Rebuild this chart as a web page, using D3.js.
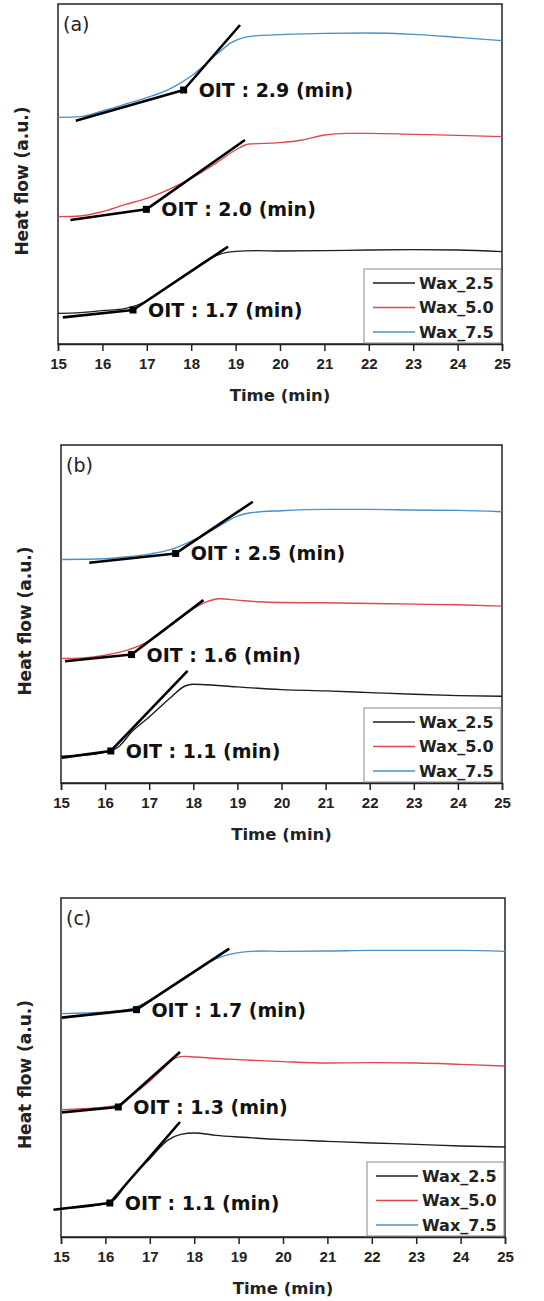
<!DOCTYPE html>
<meta charset="utf-8">
<script src="https://d3js.org/d3.v7.min.js"></script>
<style>
  body { margin: 0; background: #fff; }
</style>
<div id="my_dataviz"></div>
<script>

// x ticks (min)
var timeTicks = [15, 16, 17, 18, 19, 20, 21, 22, 23, 24, 25];
var seriesNames = ["Wax_2.5", "Wax_5.0", "Wax_7.5"];
var seriesColors = ["#1e1e1e", "#e0474c", "#4a90c8"];

// panel (a) heat flow curves, [time, heat flow a.u.]
var a_wax25 = [[15,9.2],[15.5,9.4],[16,10.0],[16.5,10.6],[17,12.9],[17.5,17.4],[18,22.0],[18.5,26.2],[18.8,27.5],[19,27.8],[19.5,28.0],[20,27.9],[21,28.0],[22,28.2],[23,28.3],[24,28.2],[25,27.7]];
var a_wax50 = [[15,38.2],[15.5,38.4],[16,39.7],[16.5,41.8],[17,43.7],[17.5,46.4],[18,49.7],[18.5,53.7],[19,58.2],[19.3,60.0],[20,60.4],[20.5,61.2],[21,62.7],[21.5,63.2],[22,63.2],[23,62.9],[24,62.6],[25,62.2]];
var a_wax75 = [[15,68.0],[15.5,68.2],[16,69.9],[16.5,71.9],[17,73.9],[17.5,76.4],[18,80.4],[18.3,83.7],[18.6,87.2],[18.9,90.4],[19.2,92.0],[19.5,92.5],[20,92.8],[21,93.2],[22,93.3],[23,92.9],[24,92.0],[25,91.0]];
// tangent lines: start, onset, end
var a_tan25 = [[15.11,8.0],[16.69,10.2],[18.83,29.2]];
var a_tan50 = [[15.28,37.2],[16.99,40.4],[19.21,61.2]];
var a_tan75 = [[15.4,67.0],[17.83,76.2],[19.1,95.7]];
var a_oit = ["1.7", "2.0", "2.9"];

// panel (b)
var b_wax25 = [[15,8.0],[15.5,8.3],[16,9.3],[16.3,10.8],[16.6,15.3],[17,19.8],[17.5,25.8],[17.8,29.0],[18,29.6],[18.5,29.3],[19,28.8],[20,28.0],[21,27.6],[22,27.1],[23,26.6],[24,26.2],[25,26.0]];
var b_wax50 = [[15,37.3],[15.5,37.5],[16,38.3],[16.5,39.8],[17,42.6],[17.5,47.3],[18,52.3],[18.3,54.3],[18.6,55.2],[19,54.8],[19.5,54.3],[20,54.1],[21,54.0],[22,53.8],[23,53.6],[24,53.4],[25,53.0]];
var b_wax75 = [[15,67.0],[16,67.2],[16.5,67.8],[17,68.6],[17.5,70.0],[18,72.8],[18.5,76.3],[19,80.0],[19.3,81.0],[20,81.6],[21,82.0],[22,82.0],[23,81.8],[24,81.7],[25,81.3]];
var b_tan25 = [[15.02,7.6],[16.13,9.6],[17.87,33.6]];
var b_tan50 = [[15.09,36.5],[16.6,38.5],[18.23,54.8]];
var b_tan75 = [[15.64,66.0],[17.6,68.8],[19.35,84.3]];
var b_oit = ["1.1", "1.6", "2.5"];

// panel (c)
var c_wax25 = [[15,8.5],[15.5,9.0],[16,10.0],[16.2,11.2],[16.5,16.5],[17,23.5],[17.4,29.0],[17.7,30.8],[18,31.2],[18.5,30.5],[19,30.0],[20,29.2],[21,28.7],[22,28.2],[23,27.8],[24,27.3],[25,27.0]];
var c_wax50 = [[15,38.2],[15.5,38.5],[16,39.0],[16.3,39.7],[16.6,42.5],[17,46.8],[17.3,50.5],[17.6,53.8],[17.8,54.2],[18,54.0],[19,53.2],[20,52.6],[21,52.2],[22,52.3],[23,52.2],[24,51.8],[25,51.3]];
var c_wax75 = [[15,67.0],[15.5,67.2],[16,67.5],[16.5,68.2],[17,71.0],[17.5,75.4],[18,79.7],[18.5,83.5],[18.8,84.8],[19.2,85.6],[19.5,85.8],[20,85.7],[21,85.8],[22,86.0],[23,86.0],[24,86.0],[25,85.7]];
var c_tan25 = [[14.83,8.2],[16.1,10.2],[17.68,34.5]];
var c_tan50 = [[15.02,37.4],[16.29,39.0],[17.68,55.5]];
var c_tan75 = [[15.02,65.8],[16.7,68.2],[18.79,86.5]];
var c_oit = ["1.1", "1.3", "1.7"];

var panels = [
  {tag: "(a)", curves: [a_wax25, a_wax50, a_wax75], tangents: [a_tan25, a_tan50, a_tan75], oit: a_oit,
   left: 58, top: 4, width: 444, height: 340, yMax: 102},
  {tag: "(b)", curves: [b_wax25, b_wax50, b_wax75], tangents: [b_tan25, b_tan50, b_tan75], oit: b_oit,
   left: 61, top: 445, width: 441, height: 338, yMax: 101.3},
  {tag: "(c)", curves: [c_wax25, c_wax50, c_wax75], tangents: [c_tan25, c_tan50, c_tan75], oit: c_oit,
   left: 61, top: 898, width: 444, height: 339, yMax: 101.7}
];

var svg = d3.select("#my_dataviz")
  .append("svg")
    .attr("width", 544)
    .attr("height", 1301);

panels.forEach(function(p) {
  var g = svg.append("g")
    .attr("transform", "translate(" + p.left + "," + p.top + ")");

  var x = d3.scaleLinear().domain([15, 25]).range([0, p.width]);
  var y = d3.scaleLinear().domain([0, p.yMax]).range([p.height, 0]);

  // frame
  g.append("rect")
    .attr("width", p.width)
    .attr("height", p.height)
    .attr("fill", "none")
    .attr("stroke", "#222")
    .attr("stroke-width", 1.5);

  // x axis
  var xAxis = g.append("g")
    .attr("transform", "translate(0," + p.height + ")")
    .call(d3.axisBottom(x).tickValues(timeTicks).tickFormat(d3.format("d")).tickSize(7).tickPadding(7));
  xAxis.select(".domain").attr("stroke", "#222").attr("stroke-width", 1.5);
  xAxis.selectAll(".tick line").attr("stroke", "#222").attr("stroke-width", 1.5);
  xAxis.selectAll(".tick text")
    .attr("font-family", "Liberation Sans, Arial, sans-serif")
    .attr("font-weight", "bold")
    .attr("font-size", 15)
    .attr("fill", "#222");

  g.append("text")
    .attr("x", p.width / 2)
    .attr("y", p.height + 57)
    .attr("text-anchor", "middle")
    .attr("font-family", "DejaVu Sans")
    .attr("font-weight", "bold")
    .attr("font-size", 16.5)
    .attr("fill", "#222")
    .text("Time (min)");

  g.append("text")
    .attr("transform", "translate(-30," + (p.height / 2 + 7) + ") rotate(-90)")
    .attr("text-anchor", "middle")
    .attr("font-family", "DejaVu Sans")
    .attr("font-weight", "bold")
    .attr("font-size", 17)
    .attr("fill", "#222")
    .text("Heat flow (a.u.)");

  g.append("text")
    .attr("x", 5)
    .attr("y", 27)
    .attr("font-family", "DejaVu Sans")
    .attr("font-size", 19)
    .attr("fill", "#222")
    .text(p.tag);

  var line = d3.line()
    .x(function(d) { return x(d[0]); })
    .y(function(d) { return y(d[1]); })
    .curve(d3.curveMonotoneX);

  p.curves.forEach(function(c, i) {
    g.append("path")
      .datum(c)
      .attr("fill", "none")
      .attr("stroke", seriesColors[i])
      .attr("stroke-width", 1.4)
      .attr("d", line);
  });

  var straight = d3.line()
    .x(function(d) { return x(d[0]); })
    .y(function(d) { return y(d[1]); });

  p.tangents.forEach(function(t, i) {
    g.append("path")
      .datum([t[0], t[1]])
      .attr("fill", "none")
      .attr("stroke", "#000")
      .attr("stroke-width", 2.6)
      .attr("d", straight);
    g.append("path")
      .datum([t[1], t[2]])
      .attr("fill", "none")
      .attr("stroke", "#000")
      .attr("stroke-width", 2.6)
      .attr("d", straight);
    g.append("rect")
      .attr("x", x(t[1][0]) - 3.5)
      .attr("y", y(t[1][1]) - 3.5)
      .attr("width", 7)
      .attr("height", 7)
      .attr("fill", "#000");
    g.append("text")
      .attr("x", x(t[1][0]) + 15)
      .attr("y", y(t[1][1]) + 7)
      .attr("font-family", "DejaVu Sans")
      .attr("font-weight", "bold")
      .attr("font-size", 19)
      .attr("fill", "#111")
      .text("OIT : " + p.oit[i] + " (min)");
  });

  // legend
  var lg = g.append("g")
    .attr("transform", "translate(" + (p.width - 138) + "," + (p.height - 75) + ")");
  lg.append("rect")
    .attr("width", 137)
    .attr("height", 74)
    .attr("fill", "#fff")
    .attr("stroke", "#888")
    .attr("stroke-width", 1);
  seriesNames.forEach(function(name, i) {
    lg.append("line")
      .attr("x1", 9).attr("x2", 51)
      .attr("y1", 14 + i * 24.5).attr("y2", 14 + i * 24.5)
      .attr("stroke", seriesColors[i])
      .attr("stroke-width", 1.6);
    lg.append("text")
      .attr("x", 55)
      .attr("y", 14 + i * 24.5)
      .attr("dy", "0.36em")
      .attr("font-family", "DejaVu Sans")
      .attr("font-weight", "bold")
      .attr("font-size", 16)
      .attr("fill", "#222")
      .text(name);
  });
});

</script>
